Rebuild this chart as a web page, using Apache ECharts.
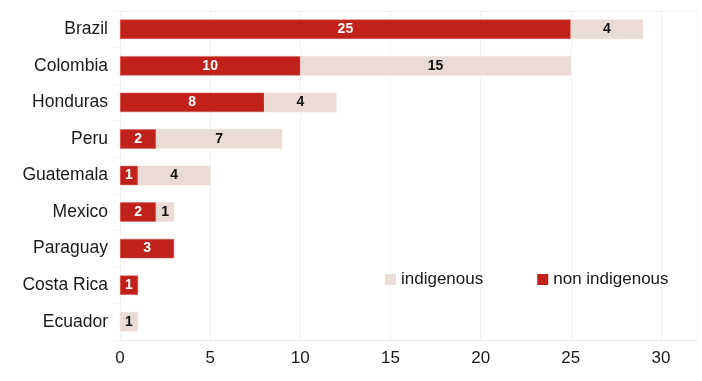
<!DOCTYPE html>
<html><head><meta charset="utf-8">
<script src="https://cdn.jsdelivr.net/npm/echarts@6/dist/echarts.min.js"></script>
<style>html,body{margin:0;padding:0;background:#fff}#c{width:702px;height:381px}</style>
</head><body><div id="c"></div>
<script>
const categories = ['Brazil','Colombia','Honduras','Peru','Guatemala','Mexico','Paraguay','Costa Rica','Ecuador'];
const nonIndigenous = [25,10,8,2,1,2,3,1,0];
const indigenous = [4,15,4,7,4,1,0,0,1];
const xTicks = [0,5,10,15,20,25,30];

const chart = echarts.init(document.getElementById('c'), null, {renderer:'canvas'});
const FONT = '"Liberation Sans", Arial, sans-serif';
const lineCol = '#ebebeb';
const noZero = arr => arr.map(v => v === 0 ? null : v);
chart.setOption({
  animation:false,
  textStyle:{fontFamily:FONT},
  grid:{left:120, right:5, top:11, bottom:41, containLabel:false},
  legend:{
    left:380, top:266, itemWidth:11, itemHeight:11, itemGap:54,
    icon:'rect',
    itemStyle:{borderWidth:0},
    textStyle:{fontFamily:FONT, fontSize:17, color:'#1a1a1a'},
    data:['indigenous','non indigenous']
  },
  xAxis:[{
    type:'value', min:0, max:32, interval:5, position:'bottom',
    axisLine:{show:true, lineStyle:{color:lineCol}},
    axisTick:{show:false},
    splitLine:{show:true, lineStyle:{color:'#f3f3f3'}},
    axisLabel:{fontSize:17, color:'#1a1a1a', margin:10, fontFamily:FONT,
      formatter:v=> xTicks.indexOf(v)>=0 ? String(v) : ''}
  },{
    type:'value', min:0, max:32, position:'top',
    axisLine:{show:true, lineStyle:{color:'#f3f3f3'}},
    axisTick:{show:false}, axisLabel:{show:false}, splitLine:{show:false}
  }],
  yAxis:{
    type:'category', data:categories, inverse:true,
    axisLine:{show:false},
    axisTick:{show:true, length:8, lineStyle:{color:'#f0f0f0'}},
    axisLabel:{fontSize:17.5, color:'#1a1a1a', margin:12, fontFamily:FONT}
  },
  series:[{
    name:'non indigenous', type:'bar', stack:'a', barWidth:'53%',
    data:noZero(nonIndigenous),
    itemStyle:{color:'#C0211A', borderColor:'#d0625c', borderWidth:0.5},
    label:{show:true, position:'inside', color:'#fff', fontWeight:'bold', fontSize:14, fontFamily:FONT}
  },{
    name:'indigenous', type:'bar', stack:'a', barWidth:'53%',
    data:noZero(indigenous),
    itemStyle:{color:'#EADBD6', borderColor:'#f1d6cd', borderWidth:0.5},
    label:{show:true, position:'inside', color:'#111', fontWeight:'bold', fontSize:14, fontFamily:FONT}
  }]
});
</script></body></html>
